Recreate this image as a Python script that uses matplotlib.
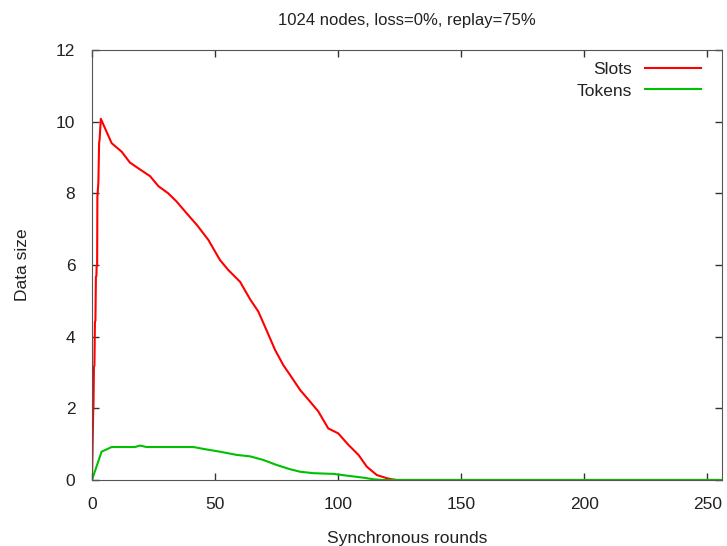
"""Slots / tokens data size over synchronous rounds."""

import matplotlib
matplotlib.use("Agg")
import matplotlib.pyplot as plt

plt.rcParams["font.family"] = ["Liberation Sans", "DejaVu Sans"]

# values
slots_x = [0, 0.2, 0.5, 0.6, 0.8, 1.0, 1.2, 1.4, 1.6, 1.8, 1.9, 2.1, 2.2, 2.5, 2.6,
           2.9, 3.1, 3.6, 8.0, 12.1, 15.4, 18.8, 23.6, 27.0, 31.0, 34.4, 38.5,
           42.6, 47.3, 52.0, 55.4, 60.2, 64.2, 67.6, 71.0, 74.4, 77.8, 80.5,
           84.6, 88.6, 92.0, 96.0, 100.1, 104.2, 108.3, 111.7, 115.7, 119.8,
           121.8, 124, 256]
slots_y = [0, 0.65, 1.95, 2.0, 3.15, 3.2, 4.4, 4.45, 5.67, 5.7, 5.95, 6.0, 7.9,
           8.2, 8.3, 9.4, 9.5, 10.08, 9.4, 9.16, 8.86, 8.7, 8.48, 8.2, 8.0, 7.77,
           7.44, 7.12, 6.7, 6.14, 5.86, 5.53, 5.05, 4.7, 4.17, 3.63, 3.2, 2.93,
           2.51, 2.19, 1.91, 1.44, 1.30, 0.98, 0.70, 0.37, 0.14, 0.05, 0.02, 0, 0]

tokens_x = [0, 3.9, 8.0, 17.5, 19.5, 22.2, 41.2, 45.9, 52.0, 58.8, 64.2, 69.6,
            75.0, 80.5, 84.6, 90.0, 98.1, 104.9, 110.3, 114.3, 118, 256]
tokens_y = [0, 0.79, 0.92, 0.92, 0.96, 0.92, 0.92, 0.86, 0.79, 0.70, 0.66, 0.56,
            0.42, 0.30, 0.23, 0.19, 0.17, 0.11, 0.065, 0.02, 0, 0]

x_ticks = [0, 50, 100, 150, 200, 250]
y_ticks = [0, 2, 4, 6, 8, 10, 12]

fig = plt.figure(figsize=(7.27, 5.46), dpi=100)
ax = fig.add_axes([0.1265, 0.1209, 0.8666, 0.7875])

ax.plot(slots_x, slots_y, color="#ff0000", lw=1.5, label="Slots")
ax.plot(tokens_x, tokens_y, color="#00c000", lw=1.5, label="Tokens")

ax.set_xlim(0, 256)
ax.set_ylim(0, 12)
ax.set_xticks(x_ticks)
ax.set_yticks(y_ticks)
ax.tick_params(direction="in", top=True, right=True, length=5, width=1,
               color="#333333", labelsize=12.5, labelcolor="#222222")
ax.tick_params(axis="x", pad=12)
ax.tick_params(axis="y", pad=12)
for s in ax.spines.values():
    s.set_color("#555555")

ax.set_title("1024 nodes, loss=0%, replay=75%", fontsize=12, color="#222222", pad=18)
ax.set_xlabel("Synchronous rounds", fontsize=12.5, color="#222222", labelpad=14)
ax.set_ylabel("Data size", fontsize=12.5, color="#222222", labelpad=19)

ax.legend(loc="upper right", bbox_to_anchor=(0.986, 1.0), frameon=False,
          markerfirst=False, fontsize=12.5, handlelength=3.2, handletextpad=0.8,
          labelspacing=0.35, borderaxespad=0.3, labelcolor="#222222")

fig.savefig("out.png", dpi=100)
